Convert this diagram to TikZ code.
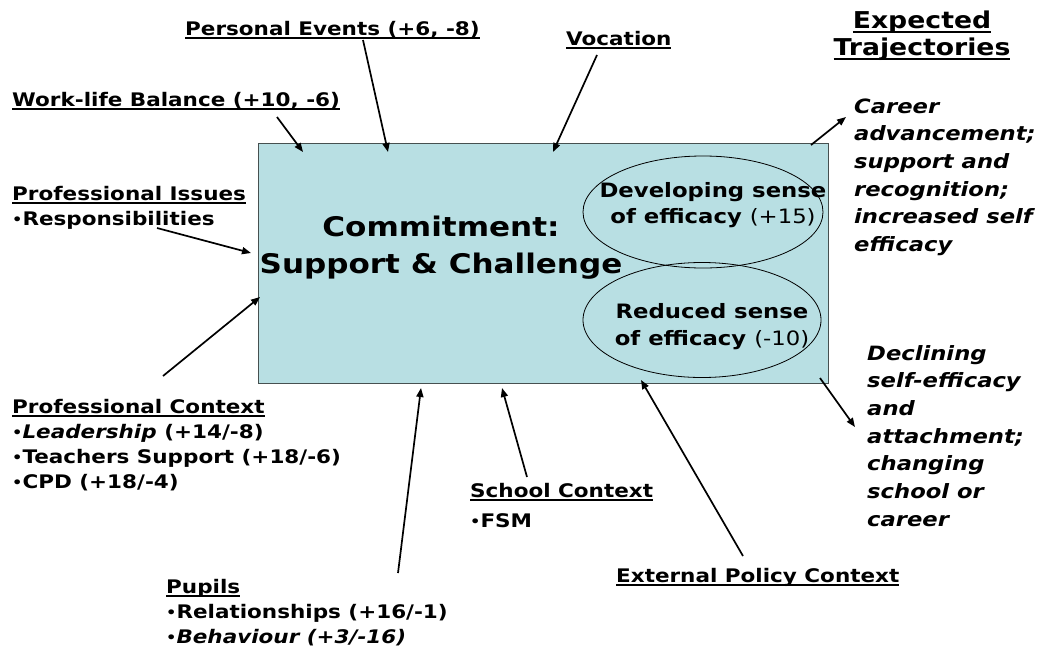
\documentclass[tikz,border=0pt]{standalone}
\usepackage{fontspec}
\setmainfont{DejaVu Sans}[FakeStretch=1.15]
\usetikzlibrary{arrows.meta,shapes.geometric}
\definecolor{boxfill}{RGB}{184,223,227}
\definecolor{boxline}{RGB}{70,80,80}
\newcommand\mlines[2]{\begin{tabular}[t]{@{}#1@{}}#2\end{tabular}}
\newcommand\ulx[1]{\setbox0\hbox{#1}\leavevmode\vtop{\copy0\kern-\dp0\kern2pt\hrule height 1.6pt}}
\newcommand\ulh[1]{\setbox0\hbox{#1}\leavevmode\vtop{\copy0\kern-\dp0\kern3pt\hrule height 2pt}}
\newcommand\bul{\raisebox{0.04em}{\scalebox{0.75}{•}}}
\begin{document}
\begin{tikzpicture}[x=1pt,y=-1pt,
  lbl/.style={inner sep=0pt, anchor=base west, font=\fontsize{18.7}{25}\selectfont\bfseries},
  ital/.style={inner sep=0pt, anchor=base west, font=\fontsize{19.7}{27.7}\selectfont\bfseries\itshape},
  head/.style={inner sep=0pt, anchor=base, font=\fontsize{23.2}{27}\selectfont\bfseries},
  main/.style={inner sep=0pt, anchor=base, font=\fontsize{27}{37}\selectfont\bfseries},
  elltext/.style={inner sep=0pt, anchor=base, font=\fontsize{19.8}{26}\selectfont\bfseries},
  oval/.style={draw=black, line width=0.8pt, ellipse, inner sep=0pt, minimum width=240pt, minimum height=112pt},
  conn/.style={-{Triangle[length=9pt,width=7pt]}, line width=1.7pt, black},
]
\useasboundingbox (0,0) rectangle (1044,651);
\fill[white] (0,0) rectangle (1044,651);

% central box
\node[draw=boxline, fill=boxfill, line width=0.8pt, minimum width=570pt, minimum height=240pt, inner sep=0pt] (box) at (543,263) {};

% ellipses
\node[oval] (dev) at (703,212) {};
\node[oval, minimum width=238pt, minimum height=115pt] (red) at (702,320) {};

% main text
\node[main] (commit) at (441,236) {\mlines{c}{Commitment:\\Support \& Challenge}};
\node[elltext] (devt) at (713,197) {\mlines{c}{Developing sense\\of efficacy {\mdseries(+15)}}};
\node[elltext, font=\fontsize{19.8}{27}\selectfont\bfseries] (redt) at (712,318) {\mlines{c}{Reduced sense\\of efficacy {\mdseries(-10)}}};

% labels
\node[lbl] (pe) at (185,35) {\ulx{Personal Events (+6, -8)}};
\node[lbl] (voc) at (566,45) {\ulx{Vocation}};
\node[head] (exp) at (922,28) {\mlines{c}{\ulh{Expected}\\\ulh{Trajectories}}};
\node[lbl] (wlb) at (12,106) {\ulx{Work-life Balance (+10, -6)}};
\node[lbl] (pi) at (12,200) {\mlines{l}{\ulx{Professional Issues}\\\bul Responsibilities}};
\node[lbl] (pc) at (12,413) {\mlines{l}{\ulx{Professional Context}\\\bul\textit{Leadership} (+14/-8)\\\bul Teachers Support (+18/-6)\\\bul CPD (+18/-4)}};
\node[lbl] (sc) at (470,497) {\mlines{l}{\ulx{School Context}\\[5pt]\bul FSM}};
\node[lbl] (pu) at (166,593) {\mlines{l}{\ulx{Pupils}\\\bul Relationships (+16/-1)\\\bul\textit{Behaviour (+3/-16)}}};
\node[lbl] (ep) at (616,582) {\ulx{External Policy Context}};
\node[ital] (car) at (854,113) {\mlines{l}{Career\\advancement;\\support and\\recognition;\\increased self\\efficacy}};
\node[ital] (dec) at (867,360) {\mlines{l}{Declining\\self-efficacy\\and\\attachment;\\changing\\school or\\career}};

% connector ends
\coordinate (wlbS) at (277,117);  \coordinate (wlbE) at (303,152);
\coordinate (peS) at (363,40);    \coordinate (peE) at (388,152);
\coordinate (vocS) at (597,55);   \coordinate (vocE) at (553,152);
\coordinate (piS) at (157,228);   \coordinate (piE) at (251,253);
\coordinate (pcS) at (163,376);   \coordinate (pcE) at (260,297);
\coordinate (puS) at (398,573);   \coordinate (puE) at (421,388);
\coordinate (scS) at (527,477);   \coordinate (scE) at (502,388);
\coordinate (epS) at (743,556);   \coordinate (epE) at (641,380);
\coordinate (carS) at (811,145);  \coordinate (carE) at (846,117);
\coordinate (decS) at (820,378);  \coordinate (decE) at (855,427);

\draw[conn] (wlbS) -- (wlbE);
\draw[conn] (peS) -- (peE);
\draw[conn] (vocS) -- (vocE);
\draw[conn] (piS) -- (piE);
\draw[conn] (pcS) -- (pcE);
\draw[conn] (puS) -- (puE);
\draw[conn] (scS) -- (scE);
\draw[conn] (epS) -- (epE);
\draw[conn] (carS) -- (carE);
\draw[conn] (decS) -- (decE);
\end{tikzpicture}
\end{document}
